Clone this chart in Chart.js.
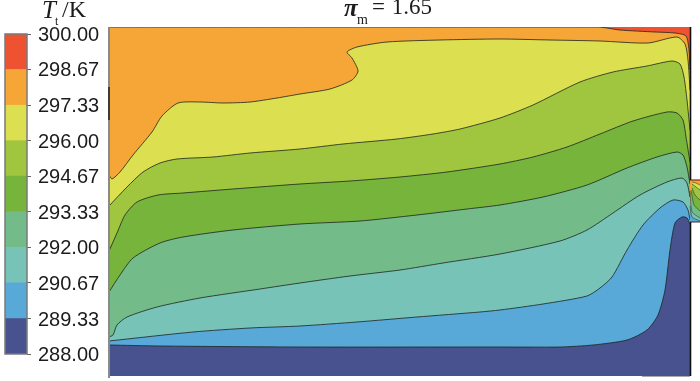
<!DOCTYPE html>
<html><head><meta charset="utf-8">
<script src="https://cdn.jsdelivr.net/npm/chart.js@4"></script>
<style>
html,body{margin:0;padding:0;background:#fff;width:700px;height:381px;overflow:hidden}
#wrap{position:relative;width:700px;height:381px}
canvas{position:absolute;display:block}
.t{position:absolute;font-family:"Liberation Serif",serif;color:#1c1c1c;line-height:1;white-space:nowrap}
</style></head><body>
<div id="wrap">
<canvas id="field" width="700" height="381" style="left:0;top:0;width:700px;height:381px"></canvas>
<canvas id="bar" width="108" height="381" style="left:0;top:0;width:108px;height:381px"></canvas>
<span class="t" style="left:42px;top:-3px;font-size:25px;font-style:italic">T</span>
<span class="t" style="left:55px;top:15px;font-size:12px">t</span>
<span class="t" style="left:62px;top:-3px;font-size:24px">/K</span>
<span class="t" style="left:344px;top:-5px;font-size:25px;font-style:italic;font-weight:bold">π</span>
<span class="t" style="left:357px;top:13px;font-size:14px">m</span>
<span class="t" style="left:372px;top:-5px;font-size:23px;word-spacing:1px">= 1.65</span>
</div>
<script>
const levels = [288, 289.33, 290.67, 292, 293.33, 294.67, 296, 297.33, 298.67, 300];
const tickLabels = ["288.00","289.33","290.67","292.00","293.33","294.67","296.00","297.33","298.67","300.00"];
const bandColors = ["#47528F","#58A8D8","#78C3B8","#73BC8A","#76B43B","#A0C53F","#DCDF4F","#F5A636","#EE5231"];

const iso28933 = [[109,345],[160,346],[300,347],[500,347],[560,347],[593,345],[627,340],[647,330],[658,315],[665,290],[670,250],[675,223],[682,217],[687,218],[690,224]];
const iso29067 = [[109,341],[193,332],[250,328],[300,326],[357,322],[417,317],[480,312],[500,310],[543,304],[587,296],[600,288],[612,277],[627,250],[643,225],[660,208],[673,200],[683,202],[688,210],[690,220]];
const iso29200 = [[109,337],[113,335],[117,325],[127,317],[157,307],[200,298],[260,289],[300,283],[350,276],[400,270],[443,263],[500,254],[560,241],[587,230],[613,213],[640,195],[667,182],[682,178],[687,183],[690,197]];
const iso29333 = [[109,292],[120,275],[133,258],[160,243],[183,237],[233,230],[300,224],[360,221],[417,215],[467,209],[500,205],[543,197],[587,185],[627,168],[657,157],[677,152],[683,155],[687,167],[690,184]];
const iso29467 = [[109,251],[117,233],[125,215],[137,202],[158,195],[183,193],[233,189],[300,184],[350,181],[400,177],[447,172],[500,164],[533,157],[567,147],[600,134],[633,121],[667,112],[677,113],[683,120],[686,137],[690,162]];
const iso29600 = [[109,206],[127,187],[143,172],[160,163],[177,159],[213,157],[250,153],[300,149],[343,144],[397,139],[433,134],[460,129],[500,118],[533,105],[580,82],[613,72],[647,66],[672,61],[680,64],[684,77],[687,100],[690,130]];
const iso29733 = [[109,175],[112,179],[120,172],[133,155],[152,132],[162,116],[178,103],[200,102],[223,103],[250,102],[277,98],[300,94],[330,89],[352,80],[358,71],[352,58],[347,52],[357,47],[387,42],[440,40],[500,39],[550,40],[600,41],[648,43],[677,37],[685,44],[688,60],[690,90]];
const iso29867 = [[109,27],[598,27],[620,30],[655,32],[675,33],[686,36],[689,50],[690,70]];
const iso30000 = [[109,27],[690,27]];

const outletLow  = [[690,206],[692,217],[700,221]];
const outletA    = [[690,191],[692,212],[700,218]];
const outletB    = [[691,190],[694,205],[700,211]];
const outletC    = [[692,188],[695,195],[700,200]];
const outletD    = [[692,184],[700,190]];
const outletE    = [[692,182],[696,183],[700,185]];
const outletTop  = [[690,180],[700,180]];
const outletFloor = [[690,222],[700,222]];

const wallLeftUpper = [[109,27],[109,378]];
const wallLeftDark = [[109,87],[109,120]];
const wallRightUpper = [[690.5,27],[690.5,180]];
const wallRightLower = [[690.5,222],[690.5,376]];
const bottomEdge = [[642,376],[690,376]];

const FLOOR = 376, OUTLET_FLOOR = 222;
const pts = a => a.map(p => ({x:p[0], y:p[1]}));
const contour = (arr, color) => ({data:pts(arr), showLine:true, pointRadius:0, borderColor:'rgba(28,38,32,.8)', borderWidth:1, tension:.24, backgroundColor:color, fill:{value:FLOOR}});
const outlet = (arr, color) => ({data:pts(arr), showLine:true, pointRadius:0, borderColor:'rgba(40,50,30,.7)', borderWidth:.8, tension:.2, backgroundColor:color, fill:{value:OUTLET_FLOOR}});
const edge = (arr, color, w) => ({data:pts(arr), showLine:true, pointRadius:0, borderColor:color, borderWidth:w, fill:false, clip:false});

new Chart(document.getElementById('field'), {
  type:'scatter',
  data:{datasets:[
    edge(wallLeftDark,'#222',1.5),
    edge(wallLeftUpper,'#8a8a8a',2),
    edge(wallRightUpper,'#111',1.6),
    edge(wallRightLower,'#111',1.6),
    edge(bottomEdge,'#555',1),
    edge(outletFloor,'#333',1),
    outlet(outletLow,bandColors[1]),
    outlet(outletA,bandColors[2]),
    outlet(outletB,bandColors[3]),
    outlet(outletC,bandColors[4]),
    outlet(outletD,bandColors[5]),
    outlet(outletE,bandColors[6]),
    {...outlet(outletTop,bandColors[7]),borderColor:'#7a3020',borderWidth:1.2},
    contour(iso28933,bandColors[0]),
    contour(iso29067,bandColors[1]),
    contour(iso29200,bandColors[2]),
    contour(iso29333,bandColors[3]),
    contour(iso29467,bandColors[4]),
    contour(iso29600,bandColors[5]),
    contour(iso29733,bandColors[6]),
    contour(iso29867,bandColors[7]),
    {...contour(iso30000,bandColors[8]),borderColor:'rgba(0,0,0,0)'}
  ]},
  options:{
    responsive:false, animation:false,
    layout:{padding:{left:109,top:27,right:0,bottom:0}},
    plugins:{legend:{display:false},tooltip:{enabled:false}},
    scales:{
      x:{type:'linear',min:109,max:700,display:false},
      y:{type:'linear',min:27,max:381,reverse:true,display:false}
    }
  }
});

const frame = {id:'frame',afterDatasetsDraw(c){const a=c.chartArea,x=c.ctx;x.save();x.strokeStyle='#7a7a7a';x.lineWidth=1.5;x.strokeRect(a.left,a.top,a.right-a.left,a.bottom-a.top);x.restore();}};
new Chart(document.getElementById('bar'), {
  type:'bar',
  data:{labels:['T'],datasets:bandColors.map((c,i)=>({data:[[levels[i],levels[i+1]]],backgroundColor:c,borderWidth:0,barPercentage:1,categoryPercentage:1}))},
  options:{
    responsive:false, animation:false,
    layout:{padding:{left:5,top:34,right:0,bottom:27}},
    plugins:{legend:{display:false},tooltip:{enabled:false}},
    scales:{
      x:{display:false,stacked:true},
      y:{position:'right',stacked:false,min:288,max:300,
        afterBuildTicks(s){s.ticks=levels.map(v=>({value:v}));},
        afterFit(s){s.width=81;},
        border:{display:false},
        grid:{drawOnChartArea:false,drawTicks:true,tickLength:4,color:'#666',lineWidth:1},
        ticks:{autoSkip:false,padding:7,labelOffset:1.5,color:'#1c1c1c',font:{family:'"Liberation Sans",Arial,sans-serif',size:20},
          callback(v){const i=levels.indexOf(v);return i>=0?tickLabels[i]:'';}}
      }
    }
  },
  plugins:[frame]
});
</script>
</body></html>
